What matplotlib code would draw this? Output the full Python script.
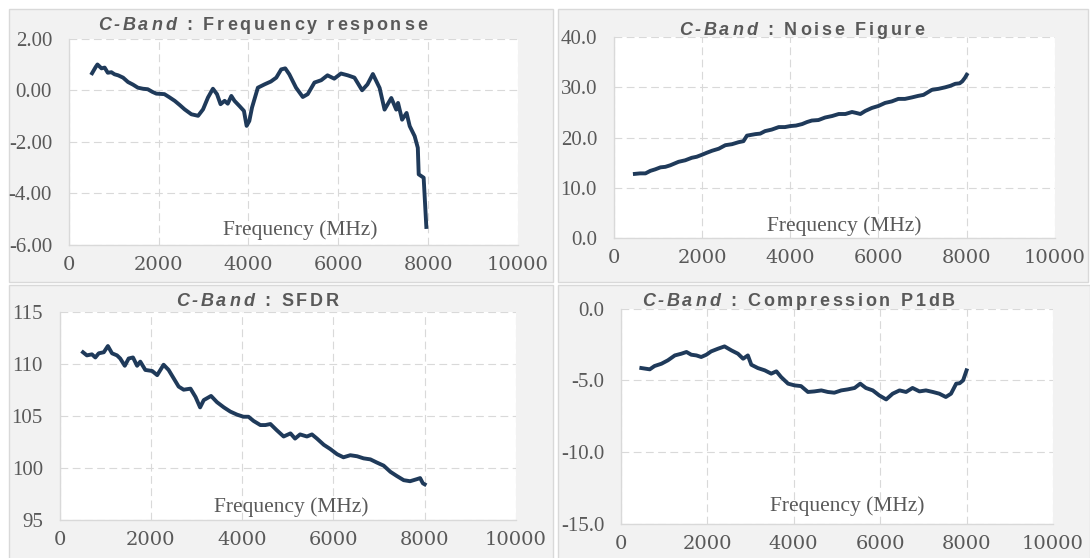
import numpy as np
import matplotlib
matplotlib.use("Agg")
import matplotlib.pyplot as plt
from matplotlib.patches import Rectangle
from matplotlib.font_manager import FontProperties, findfont
from matplotlib.ft2font import FT2Font

W, H, DPI = 1090, 558, 100

# --- data (frequency in MHz) ---
fr_freq = [520, 600, 640, 730, 800, 870, 950, 1020, 1100, 1210, 1320, 1430, 1540, 1650,
           1760, 1860, 1950, 2130, 2240, 2360, 2470, 2580, 2730, 2880, 2990, 3100, 3210,
           3300, 3380, 3470, 3540, 3620, 3690, 3800, 3900, 3960, 4020, 4080, 4210, 4360,
           4500, 4620, 4730, 4820, 4910, 5060, 5210, 5320, 5470, 5620, 5760, 5910, 6060,
           6210, 6360, 6530, 6650, 6770, 6920, 7030, 7180, 7290, 7330, 7420, 7520, 7590,
           7700, 7770, 7790, 7900, 7960]
fr_gain = [0.66, 0.90, 1.00, 0.85, 0.88, 0.68, 0.70, 0.62, 0.58, 0.49, 0.32, 0.22, 0.10, 0.06,
           0.04, -0.06, -0.13, -0.15, -0.27, -0.41, -0.57, -0.74, -0.93, -0.99, -0.74, -0.28, 0.06,
           -0.15, -0.54, -0.41, -0.52, -0.22, -0.41, -0.61, -0.80, -1.38, -1.19, -0.67, 0.10, 0.23,
           0.34, 0.49, 0.81, 0.85, 0.62, 0.10, -0.26, -0.15, 0.30, 0.39, 0.58, 0.45, 0.65,
           0.58, 0.49, 0.00, 0.23, 0.63, 0.09, -0.75, -0.30, -0.75, -0.49, -1.14, -0.88, -1.39,
           -1.78, -2.23, -3.26, -3.39, -5.30]

nf_freq = [480, 600, 720, 830, 940, 1060, 1170, 1280, 1470, 1620, 1770, 1880, 2000, 2110,
           2230, 2380, 2530, 2680, 2830, 2940, 3020, 3210, 3320, 3430, 3580, 3740, 3880,
           4000, 4130, 4270, 4380, 4490, 4640, 4790, 4950, 5100, 5250, 5400, 5500, 5590,
           5700, 5850, 6000, 6150, 6300, 6450, 6600, 6760, 6900, 7020, 7210, 7360, 7510,
           7630, 7740, 7840, 7900, 7960, 8000]
nf_val = [12.8, 12.9, 12.9, 13.4, 13.7, 14.1, 14.2, 14.5, 15.2, 15.5, 16.0, 16.2, 16.6, 17.0,
          17.4, 17.8, 18.5, 18.7, 19.1, 19.3, 20.4, 20.7, 20.8, 21.3, 21.6, 22.1, 22.1,
          22.3, 22.4, 22.7, 23.1, 23.4, 23.5, 24.0, 24.3, 24.7, 24.7, 25.1, 24.9, 24.7,
          25.3, 25.9, 26.3, 26.9, 27.2, 27.7, 27.7, 28.0, 28.3, 28.5, 29.5, 29.7, 30.0,
          30.3, 30.7, 30.8, 31.2, 31.9, 32.5]

sfdr_freq = [515, 600, 710, 785, 860, 970, 1060, 1150, 1260, 1330, 1430, 1515, 1610, 1700,
             1770, 1880, 2030, 2140, 2280, 2390, 2500, 2610, 2720, 2870, 2980, 3080, 3160,
             3320, 3450, 3600, 3740, 3890, 4030, 4140, 4250, 4400, 4510, 4620, 4760, 4910,
             5060, 5160, 5270, 5420, 5530, 5640, 5790, 5930, 6080, 6220, 6370, 6520, 6660,
             6810, 6950, 7100, 7250, 7390, 7540, 7680, 7830, 7900, 7960, 8000]
sfdr_val = [111.1, 110.8, 110.9, 110.6, 111.0, 111.1, 111.7, 111.0, 110.8, 110.5, 109.8, 110.5,
            110.6, 109.8, 110.2, 109.4, 109.3, 108.9, 109.9, 109.4, 108.6, 107.8, 107.5, 107.6,
            106.8, 105.8, 106.5, 106.9, 106.3, 105.8, 105.4, 105.1, 104.9, 104.9, 104.5, 104.1,
            104.1, 104.2, 103.6, 103.0, 103.3, 102.8, 103.2, 103.0, 103.2, 102.8, 102.2, 101.8,
            101.3, 101.0, 101.2, 101.1, 100.9, 100.8, 100.5, 100.2, 99.6, 99.2, 98.8, 98.7,
            98.9, 99.0, 98.5, 98.4]

p1_freq = [475, 670, 780, 940, 1090, 1250, 1400, 1520, 1630, 1750, 1860, 1980, 2090, 2250,
           2400, 2560, 2710, 2830, 2940, 3020, 3170, 3330, 3480, 3600, 3710, 3870, 4020,
           4170, 4330, 4480, 4640, 4790, 4940, 5100, 5250, 5410, 5540, 5670, 5830, 5980,
           6140, 6290, 6450, 6600, 6750, 6910, 7060, 7220, 7370, 7520, 7640, 7760, 7840,
           7920, 8000]
p1_val = [-4.14, -4.23, -4.00, -3.84, -3.60, -3.26, -3.14, -3.02, -3.21, -3.26, -3.37, -3.21,
          -2.98, -2.79, -2.63, -2.91, -3.14, -3.49, -3.26, -3.91, -4.14, -4.30, -4.53, -4.37,
          -4.77, -5.23, -5.35, -5.40, -5.81, -5.77, -5.70, -5.81, -5.86, -5.70, -5.63, -5.53,
          -5.23, -5.53, -5.70, -6.05, -6.33, -5.93, -5.70, -5.81, -5.53, -5.77, -5.70, -5.81,
          -5.93, -6.16, -5.93, -5.23, -5.20, -5.00, -4.30]

freq_ticks = [0, 2000, 4000, 6000, 8000, 10000]

TXT = "#595959"
LINE = "#1f3a5a"
GRID = "#d9d9d9"

fig = plt.figure(figsize=(W / DPI, H / DPI), dpi=DPI, facecolor="white")

# grey chart-area boxes
for l, t, r, b in [(9, 9, 553, 282), (558, 9, 1088, 282),
                   (9, 285, 553, 560), (558, 285, 1090, 560)]:
    fig.add_artist(Rectangle((l / W, 1 - b / H), (r - l) / W, (b - t) / H,
                             transform=fig.transFigure, facecolor="#f2f2f2",
                             edgecolor=GRID, linewidth=1.0, zorder=0))


def spaced(x_px, y_px, parts, size=13, gap=2.8):
    # letter-spaced bold title like the Excel chart titles
    x = x_px
    for s, style in parts:
        fp = FontProperties(family="Liberation Sans", weight="bold", style=style, size=size)
        font = FT2Font(findfont(fp))
        font.set_size(size, DPI)
        for ch in s:
            if ch != " ":
                fig.text(x / W, 1 - y_px / H, ch, fontproperties=fp, color=TXT,
                         ha="left", va="baseline")
            x += font.load_char(ord(ch)).linearHoriAdvance / 65536 + gap


def panel(box, xs, ys, ylim, yticks, yfmt, title, tpos, lpos):
    l, t, r, b = box
    ax = fig.add_axes([l / W, 1 - b / H, (r - l) / W, (b - t) / H])
    ax.set_facecolor("white")
    ax.plot(xs, ys, color=LINE, lw=2.8, solid_joinstyle="round", zorder=3)
    ax.set_xlim(0, 10000)
    ax.set_ylim(*ylim)
    ax.set_xticks(freq_ticks)
    ax.set_yticks(yticks)
    ax.set_xticklabels([str(v) for v in freq_ticks], fontfamily="DejaVu Serif",
                       fontsize=14, color=TXT)
    ax.set_yticklabels([yfmt % v for v in yticks], fontfamily="Liberation Serif",
                       fontsize=15, color=TXT)
    ax.tick_params(length=0)
    ax.tick_params(axis="x", pad=8)
    ax.tick_params(axis="y", pad=12)
    ax.grid(True, color=GRID, lw=0.8, dashes=(7, 4))
    for s in ["top", "right"]:
        ax.spines[s].set_visible(False)
    for s in ["left", "bottom"]:
        ax.spines[s].set_color(GRID)
        ax.spines[s].set_linewidth(1.0)
    spaced(tpos[0], tpos[1], [("C-Band", "italic"), (" : " + title, "normal")])
    fig.text(lpos[0] / W, 1 - lpos[1] / H, "Frequency (MHz)", fontfamily="Liberation Serif",
             fontsize=15.5, color=TXT, ha="left", va="baseline")
    return ax


panel((68.7, 38.7, 518, 245), fr_freq, fr_gain, (-6, 2), [-6, -4, -2, 0, 2], "%.2f",
      "Frequency response", (98, 30), (223, 235))
panel((613.7, 37, 1055, 238.3), nf_freq, nf_val, (0, 40), [0, 10, 20, 30, 40], "%.1f",
      "Noise Figure", (679, 35), (767, 231))
panel((59.5, 311.7, 516, 519.7), sfdr_freq, sfdr_val, (95, 115), [95, 100, 105, 110, 115], "%d",
      "SFDR", (176, 306), (214, 512))
panel((620.8, 308.7, 1053, 523.7), p1_freq, p1_val, (-15, 0), [-15, -10, -5, 0], "%.1f",
      "Compression P1dB", (642, 306), (770, 511))

fig.savefig("out.png", dpi=DPI, facecolor="white")
